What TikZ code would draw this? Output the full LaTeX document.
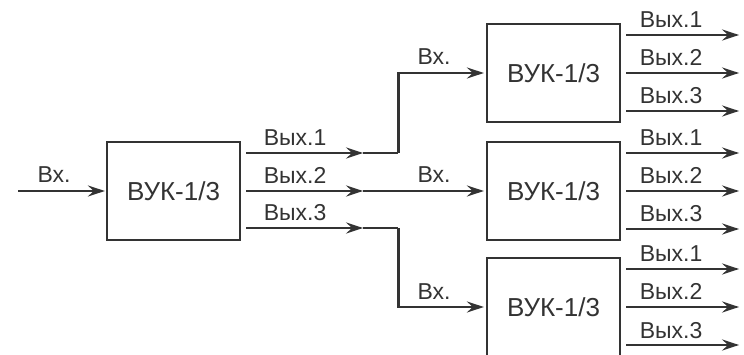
\documentclass[tikz,border=0pt]{standalone}
\usepackage{fontspec}
\setmainfont{Liberation Sans}
\usetikzlibrary{arrows.meta}
\definecolor{ink}{gray}{0.2}

\begin{document}
\begin{tikzpicture}[x=1pt,y=-1pt,
    blok/.style={draw=ink, line width=2.2pt, minimum width=133pt, minimum height=98pt,
      inner sep=0pt, text=ink, font=\fontsize{26}{26}\selectfont},
    sig/.style={draw=ink, line width=2.8pt, -{Stealth[length=17pt,width=11pt,inset=6pt]}},
    wire/.style={draw=ink, line width=2.8pt},
    lbl/.style={anchor=base, inner sep=0pt, text=ink, font=\fontsize{23}{23}\selectfont}]
  \useasboundingbox (0,0) rectangle (744,355);

  % blocks
  \node[blok] (A) at (173.5,191) {ВУК-1/3};
  \node[blok] (B) at (553.5,73) {ВУК-1/3};
  \node[blok] (C) at (553.5,191) {ВУК-1/3};
  \node[blok] (D) at (553.5,307) {ВУК-1/3};

  % input of the first block
  \coordinate (in) at (18,191);
  \draw[sig] (in) -- ([xshift=-1]A.west);
  \node[lbl] (inA) at (54,183) {Вх.};

  % outputs of the first block
  \foreach \k/\dy in {1/-38,2/0,3/37} {
    \coordinate (j\k) at ([shift={(122,\dy)}]A.east);
    \draw[sig] ([shift={(5,\dy)}]A.east) -- (j\k);
    \node[lbl] (outA\k) at ([shift={(54,\dy-7)}]A.east) {Вых.\k};
  }

  % links to the next blocks
  \draw[wire] (j1) -- ++(35,0) coordinate (t1);
  \draw[sig] (t1) |- ([xshift=-2]B.west);
  \draw[sig] (j2) -- ([xshift=-2]C.west);
  \draw[wire] (j3) -- ++(35,0) coordinate (t3);
  \draw[sig] (t3) |- ([xshift=-2]D.west);
  \node[lbl] (inB) at (434,65) {Вх.};
  \node[lbl] (inC) at (434,183) {Вх.};
  \node[lbl] (inD) at (434,300) {Вх.};

  % outputs of the second row
  \foreach \b in {B,C,D} {
    \foreach \k/\dy in {1/-38,2/0,3/38} {
      \draw[sig] ([shift={(5,\dy)}]\b.east) -- ([shift={(118,\dy)}]\b.east);
      \node[lbl] (out\b\k) at ([shift={(50,\dy-7)}]\b.east) {Вых.\k};
    }
  }
\end{tikzpicture}
\end{document}
